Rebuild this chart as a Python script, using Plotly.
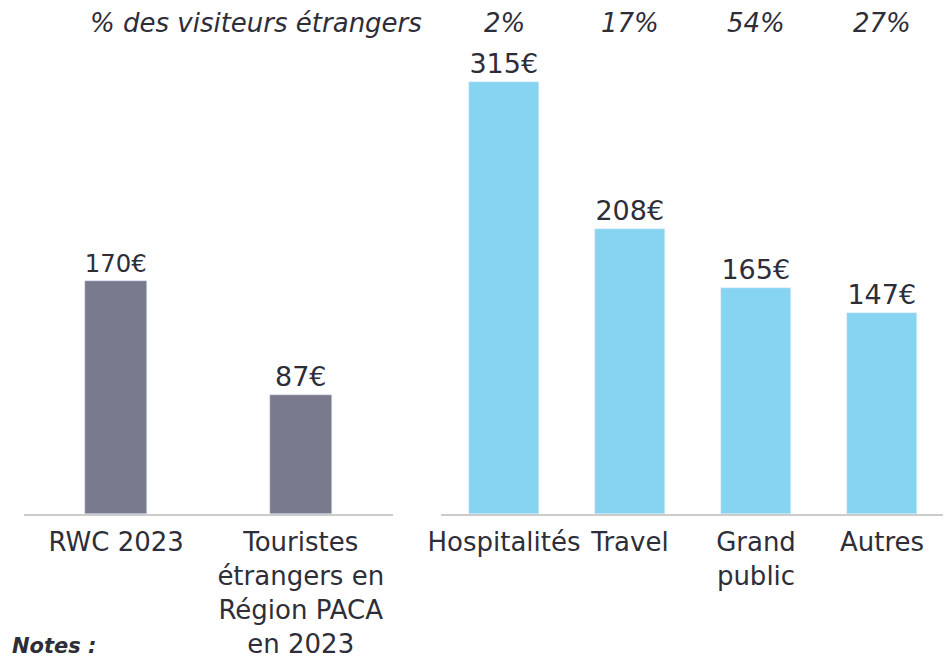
from plotly.subplots import make_subplots
from plotly import graph_objects as go

# data
left_categories = ['RWC 2023', 'Touristes<br>étrangers en<br>Région PACA<br>en 2023']
left_values = [170, 87]
right_categories = ['Hospitalités', 'Travel', 'Grand<br>public', 'Autres']
right_values = [315, 208, 165, 147]
share_label = '% des visiteurs étrangers'
share_foreign = ['2%', '17%', '54%', '27%']

GREY_BAR = '#7a7a8f'
BLUE_BAR = '#87d4f1'
TEXT_COLOR = '#2e2e38'
AXIS_COLOR = '#cccccc'
FONT = 'DejaVu Sans, sans-serif'

W, H = 951, 659
PAGE_OFFSET = 8  # browser body margin shifts the figure
BASE_Y = 514 - PAGE_OFFSET  # pixel row of the baseline inside the figure


def px_x(x):
    return (x - PAGE_OFFSET) / W


def px_y(y):
    # page pixel row -> paper coordinate (plot area spans rows 0..BASE_Y)
    return (BASE_Y - (y - PAGE_OFFSET)) / BASE_Y


fig = make_subplots(rows=1, cols=2, shared_yaxes=False, horizontal_spacing=0.05)

fig.add_trace(go.Bar(x=left_categories, y=left_values, marker_color=GREY_BAR, width=0.336,
                     texttemplate='%{y}€', textposition='outside', cliponaxis=False,
                     textfont=dict(size=27, color=TEXT_COLOR, family=FONT)), row=1, col=1)
fig.add_trace(go.Bar(x=right_categories, y=right_values, marker_color=BLUE_BAR, width=0.56,
                     texttemplate='%{y}€', textposition='outside', cliponaxis=False,
                     textfont=dict(size=27, color=TEXT_COLOR, family=FONT)), row=1, col=2)

y_max = BASE_Y / 1.37
axis_style = dict(showline=True, linecolor=AXIS_COLOR, linewidth=2, ticks='', showgrid=False,
                  automargin=False, ticklabelstandoff=4,
                  tickfont=dict(size=26, color=TEXT_COLOR, family=FONT))
fig.update_xaxes(**axis_style)
fig.update_yaxes(range=[0, y_max], visible=False, showgrid=False, automargin=False)

fig.update_layout(
    xaxis=dict(domain=[px_x(24), px_x(393)]),
    xaxis2=dict(domain=[px_x(441), px_x(945)]),
)

# top row: share of foreign visitors
label_y = px_y(23)
fig.add_annotation(text=f'<i>{share_label}</i>', xref='paper', yref='paper', x=px_x(256), y=label_y,
                   showarrow=False, font=dict(size=26, color=TEXT_COLOR, family=FONT),
                   xanchor='center', yanchor='middle')
for cat, pct in zip(right_categories, share_foreign):
    fig.add_annotation(text=f'<i>{pct}</i>', xref='x2', yref='paper', x=cat, y=label_y,
                       showarrow=False, font=dict(size=26, color=TEXT_COLOR, family=FONT),
                       xanchor='center', yanchor='middle')

fig.add_annotation(text='<b><i>Notes :</i></b>', xref='paper', yref='paper', x=px_x(10),
                   y=px_y(632), showarrow=False, xanchor='left', yanchor='top',
                   font=dict(size=21, color=TEXT_COLOR, family=FONT))

fig.update_layout(
    width=W, height=H,
    margin=dict(l=0, r=0, t=0, b=H - BASE_Y, autoexpand=False),
    paper_bgcolor='white', plot_bgcolor='white',
    showlegend=False, bargap=0,
)

fig.write_html('out.html')
